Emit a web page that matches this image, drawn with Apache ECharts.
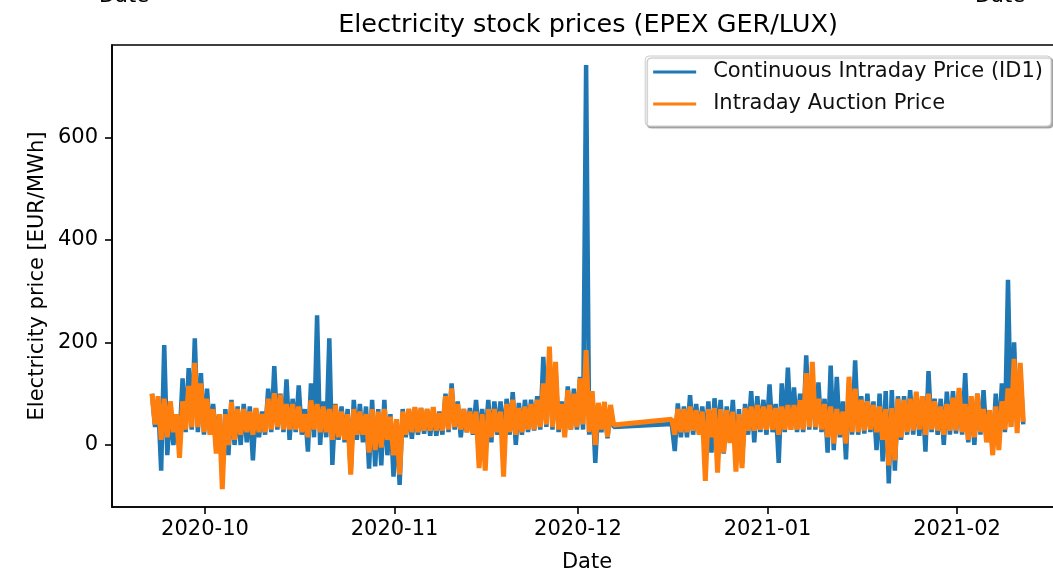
<!DOCTYPE html>
<html>
<head>
<meta charset="utf-8">
<title>Electricity stock prices (EPEX GER/LUX)</title>
<script src="https://cdn.jsdelivr.net/npm/echarts@6/dist/echarts.min.js"></script>
<style>
  html, body { margin: 0; padding: 0; background: #fff; }
  #chart { width: 1053px; height: 573px; }
</style>
</head>
<body>
<div id="chart"></div>
<script>
// daily readings (high at 08:00, low at 20:00), EUR/MWh
// block A: 2020-09-22 .. 2020-12-06, block B: 2020-12-16 .. 2021-02-11 (no data in between)
const startA = [2020, 8, 22]
const startB = [2020, 11, 16]

// Continuous Intraday Price (ID1)
const id1HighA = [100, 85, 195, 70, 60, 130, 150, 208, 140, 110,
  80, 60, 70, 88, 75, 80, 75, 70, 65, 110,
  154, 100, 128, 90, 116, 70, 120, 253, 85, 208,
  80, 75, 70, 88, 80, 75, 88, 70, 88, 60,
  50, 70, 70, 72, 72, 70, 68, 65, 100, 120,
  85, 70, 72, 88, 70, 88, 85, 85, 90, 103,
  82, 88, 88, 95, 172, 175, 150, 85, 114, 110,
  133, 741, 100, 80, 78, 75]
const id1LowA = [35, -50, -20, 0, 10, 25, 30, 25, 20, 20,
  10, -51, -20, 0, 0, 5, -30, 15, 20, 25,
  30, 25, 10, 25, 20, -13, 15, 0, 15, -39,
  10, 5, -55, 10, 5, -46, -42, -40, -20, -62,
  -78, 15, 12, 20, 22, 18, 18, 20, 25, 30,
  15, 25, 20, 10, 10, 5, 20, 15, 20, 0,
  20, 25, 28, 30, 35, 30, 25, 20, 30, 30,
  30, 20, -35, 25, 13, 35]
const id1HighB = [41, 81, 75, 97, 80, 75, 85, 91, 88, 75,
  88, 70, 80, 105, 95, 88, 118, 80, 120, 151,
  112, 100, 175, 140, 122, 90, 155, 133, 85, 120,
  165, 95, 100, 85, 100, 105, 107, 95, 95, 107,
  100, 95, 144, 90, 90, 104, 105, 105, 140, 85,
  100, 107, 62, 100, 120, 322, 200, 150]
const id1LowB = [-12, 15, 15, 20, 20, 10, -15, 15, -17, 10,
  -20, -36, 20, 5, 25, 20, 25, -35, 25, 30,
  25, 25, 30, 30, 25, -15, -10, 15, -28, 20,
  20, 22, 25, -10, -32, -75, -50, 10, 20, 20,
  18, -13, 25, 20, 0, 20, 22, 20, 5, 0,
  20, 10, -13, 10, 25, 35, 35, 40]

// Intraday Auction Price
const auctionHighA = [100, 95, 90, 85, 60, 85, 115, 160, 120, 90,
  70, 60, 60, 84, 70, 70, 65, 72, 60, 90,
  101, 98, 80, 80, 75, 60, 87, 80, 75, 70,
  78, 65, 60, 70, 65, 60, 70, 65, 70, 55,
  50, 65, 70, 74, 72, 70, 74, 62, 95, 110,
  80, 70, 65, 65, 60, 70, 70, 65, 80, 88,
  72, 75, 80, 88, 120, 192, 162, 80, 107, 100,
  130, 185, 105, 82, 84, 78]
const auctionLowA = [40, 10, 15, 25, -25, 30, 35, 35, 25, 20,
  -17, -86, 0, 10, 20, 25, 20, 25, 25, 30,
  35, 30, 30, 30, 25, 15, 30, 25, 25, 10,
  15, 10, -58, 20, 20, -15, -10, -5, 10, -20,
  -58, 20, 25, 25, 28, 28, 28, 28, 30, 35,
  30, 25, 22, -45, -50, 15, 25, -62, 25, 20,
  25, 30, 30, 35, 40, 35, 30, 15, 30, 35,
  40, 25, 0, 30, 16, 39]
const auctionHighB = [50, 70, 70, 75, 68, 65, 70, 72, 70, 68,
  65, 60, 72, 75, 78, 75, 78, 72, 75, 78,
  78, 87, 140, 162, 90, 80, 75, 70, 65, 133,
  110, 88, 85, 78, 75, 70, 72, 90, 88, 90,
  104, 95, 100, 85, 75, 80, 92, 111, 80, 95,
  100, 70, 68, 75, 85, 110, 168, 160]
const auctionLowB = [20, 25, 25, 28, 20, -70, 15, -54, -15, 4,
  -52, -45, 28, 28, 30, 30, 30, 20, 30, 30,
  30, 30, 35, 35, 30, 15, 3, 20, 3, 25,
  25, 28, 30, 25, 10, -40, -30, 15, 25, 28,
  30, 20, 30, 28, 20, 28, 28, 25, 10, 15,
  25, 5, -20, -10, 30, 35, 23, 45]

// tick labels
const monthTicks = ['2020-10', '2020-11', '2020-12', '2021-01', '2021-02']
const priceTicks = [0, 200, 400, 600]

const chartDom = document.getElementById('chart')
const myChart = echarts.init(chartDom)

//把每天的高低值排成时间序列
const buildSeries = (blocks) => {
  const out = []
  blocks.forEach(([start, high, low]) => {
    for (let i = 0; i < high.length; i++) {
      out.push([new Date(start[0], start[1], start[2] + i, 8).getTime(), high[i]])
      out.push([new Date(start[0], start[1], start[2] + i, 20).getTime(), low[i]])
    }
  })
  return out
}

const id1Data = buildSeries([[startA, id1HighA, id1LowA], [startB, id1HighB, id1LowB]])
const auctionData = buildSeries([[startA, auctionHighA, auctionLowA], [startB, auctionHighB, auctionLowB]])

const monthTimes = monthTicks.map((m) => {
  const [y, mo] = m.split('-').map(Number)
  return new Date(y, mo - 1, 1).getTime()
})
const pad = (n) => (n < 10 ? '0' + n : '' + n)
const fmtMonth = (value) => {
  const d = new Date(value)
  return d.getFullYear() + '-' + pad(d.getMonth() + 1)
}

const font = 'DejaVu Sans'
const axisColor = '#000'
const option = {
  animation: false,
  backgroundColor: '#fff',
  textStyle: { fontFamily: font },
  title: {
    text: 'Electricity stock prices (EPEX GER/LUX)',
    left: 588,
    top: 12,
    padding: 0,
    textAlign: 'center',
    textStyle: { fontSize: 25.5, fontWeight: 'normal', color: '#000', fontFamily: font }
  },
  // cut-off axis labels of the plots above
  graphic: [
    { type: 'text', x: 124, y: 7, silent: true,
      style: { text: 'Date', fontSize: 21, fontFamily: font, fill: '#000', align: 'center', verticalAlign: 'bottom' } },
    { type: 'text', x: 1000, y: 7, silent: true,
      style: { text: 'Date', fontSize: 21, fontFamily: font, fill: '#000', align: 'center', verticalAlign: 'bottom' } }
  ],
  legend: {
    orient: 'vertical',
    right: 2,
    top: 56,
    padding: [5, 8, 11, 8],
    itemGap: 10,
    itemWidth: 43,
    itemHeight: 3,
    icon: 'rect',
    selectedMode: false,
    backgroundColor: '#fff',
    borderColor: '#ccc',
    borderWidth: 1,
    borderRadius: 4,
    shadowColor: 'rgba(0,0,0,0.3)',
    shadowOffsetX: 2,
    shadowOffsetY: 2,
    shadowBlur: 1,
    textStyle: { fontSize: 21, fontFamily: font, color: '#111', lineHeight: 22, padding: [0, 0, 0, 12] },
    data: ['Continuous Intraday Price (ID1)', 'Intraday Auction Price']
  },
  grid: {
    left: 112,
    top: 45,
    width: 950,
    height: 462,
    show: true,
    borderColor: axisColor,
    borderWidth: 1.6,
    backgroundColor: 'transparent',
    outerBoundsMode: 'none'
  },
  xAxis: {
    type: 'value',
    min: new Date(2020, 8, 15, 19).getTime(),
    max: new Date(2021, 1, 18, 4).getTime(),
    name: 'Date',
    nameLocation: 'middle',
    nameGap: 45,
    nameTextStyle: { fontSize: 21, color: '#000', fontFamily: font },
    axisLine: { show: true, onZero: false, lineStyle: { color: axisColor, width: 1.6 } },
    splitLine: { show: false },
    axisTick: { show: true, length: 7, customValues: monthTimes, lineStyle: { color: axisColor, width: 1.6 } },
    axisLabel: {
      customValues: monthTimes,
      formatter: fmtMonth,
      fontSize: 21,
      color: '#000',
      fontFamily: font,
      margin: 12,
      hideOverlap: false
    }
  },
  yAxis: {
    type: 'value',
    min: -121,
    max: 780,
    name: 'Electricity price [EUR/MWh]',
    nameLocation: 'middle',
    nameGap: 64,
    nameMoveOverlap: false,
    nameTextStyle: { fontSize: 21, color: '#000', fontFamily: font },
    axisLine: { show: true, onZero: false, lineStyle: { color: axisColor, width: 1.6 } },
    splitLine: { show: false },
    axisTick: { show: true, length: 7, customValues: priceTicks, lineStyle: { color: axisColor, width: 1.6 } },
    axisLabel: { customValues: priceTicks, fontSize: 21, color: '#000', fontFamily: font, margin: 14 }
  },
  series: [
    {
      name: 'Continuous Intraday Price (ID1)',
      type: 'line',
      data: id1Data,
      showSymbol: false,
      symbol: 'none',
      color: '#1f77b4',
      lineStyle: { color: '#1f77b4', width: 4.5, join: 'bevel' },
      emphasis: { disabled: true }
    },
    {
      name: 'Intraday Auction Price',
      type: 'line',
      data: auctionData,
      showSymbol: false,
      symbol: 'none',
      color: '#ff7f0e',
      lineStyle: { color: '#ff7f0e', width: 5, join: 'bevel' },
      emphasis: { disabled: true }
    }
  ]
}

option && myChart.setOption(option)
</script>
</body>
</html>
